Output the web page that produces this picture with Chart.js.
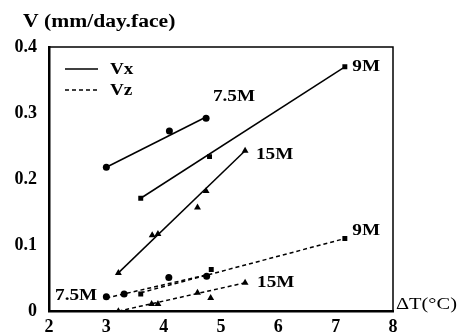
<!DOCTYPE html>
<html>
<head>
<meta charset="utf-8">
<script src="https://cdn.jsdelivr.net/npm/chart.js@4/dist/chart.umd.min.js"></script>
<style>
  html, body { margin: 0; padding: 0; background: #fff; }
  #wrap { width: 459px; height: 334px; position: relative; }
</style>
</head>
<body>
<div id="wrap"><canvas id="chart1"></canvas></div>
<script>
  // Puntos medidos (ΔT, V)
  const vx75X = [3.0, 4.1, 4.74];
  const vx75Y = [0.218, 0.273, 0.292];
  const vx9X = [3.6, 4.8, 7.16];
  const vx9Y = [0.171, 0.234, 0.370];
  const vx15X = [3.21, 3.8, 3.9, 4.59, 4.74, 5.42];
  const vx15Y = [0.058, 0.115, 0.117, 0.157, 0.182, 0.243];
  const vz75X = [3.0, 3.31, 4.09, 4.75];
  const vz75Y = [0.022, 0.026, 0.051, 0.053];
  const vz9X = [3.6, 4.83, 7.16];
  const vz9Y = [0.026, 0.063, 0.110];
  const vz15X = [3.21, 3.79, 3.9, 4.59, 4.82, 5.42];
  const vz15Y = [0.0, 0.011, 0.011, 0.028, 0.020, 0.043];

  // Rectas de ajuste (extremos)
  const fitVx75 = [[3.0, 0.218], [4.74, 0.294]];
  const fitVx9 = [[3.6, 0.171], [7.16, 0.370]];
  const fitVx15 = [[3.21, 0.058], [5.42, 0.243]];
  const fitVz75 = [[3.0, 0.020], [4.75, 0.055]];
  const fitVz9 = [[3.6, 0.028], [7.16, 0.110]];
  const fitVz15 = [[3.21, 0.0], [5.42, 0.043]];

  // Etiquetas de curvas
  const curveLabels = [
    { text: '7.5M', x: 4.86, y: 0.325, align: 'left' },
    { text: '9M', x: 7.29, y: 0.370, align: 'left' },
    { text: '15M', x: 5.61, y: 0.237, align: 'left' },
    { text: '7.5M', x: 2.84, y: 0.023, align: 'right' },
    { text: '9M', x: 7.29, y: 0.121, align: 'left' },
    { text: '15M', x: 5.63, y: 0.043, align: 'left' }
  ];

  const xTicks = [2, 3, 4, 5, 6, 7, 8];
  const yTicks = [0, 0.1, 0.2, 0.3, 0.4];

  const serif = '"Liberation Serif", "Times New Roman", serif';
  const stretch = 1.2;
  const toPts = (xs, ys) => xs.map((x, i) => ({ x: x, y: ys[i] }));
  const toLine = arr => arr.map(p => ({ x: p[0], y: p[1] }));

  const puntos = (xs, ys, style, r) => ({
    data: toPts(xs, ys),
    showLine: false,
    pointStyle: style,
    pointRadius: r,
    pointBackgroundColor: '#000',
    pointBorderColor: '#000',
    pointBorderWidth: 0
  });
  const recta = (arr, dash) => ({
    data: toLine(arr),
    showLine: true,
    borderColor: '#000',
    borderWidth: 1.5,
    borderDash: dash,
    pointRadius: 0
  });

  // texto algo ensanchado, como en la figura escaneada
  function texto(c, str, x, y, align) {
    const w = c.measureText(str).width * stretch;
    const x0 = align === 'right' ? x - w : x;
    c.save();
    c.translate(x0, y);
    c.scale(stretch, 1);
    c.textAlign = 'left';
    c.fillText(str, 0, 0);
    c.restore();
  }

  const extras = {
    id: 'extras',
    afterDraw(chart) {
      const c = chart.ctx, a = chart.chartArea;
      const sx = chart.scales.x, sy = chart.scales.y;
      c.save();
      // marco
      c.strokeStyle = '#000';
      c.lineWidth = 1.5;
      c.beginPath();
      c.moveTo(a.left, a.top); c.lineTo(a.right, a.top); c.lineTo(a.right, a.bottom);
      c.stroke();
      // etiquetas
      c.fillStyle = '#000';
      c.textBaseline = 'middle';
      c.font = 'bold 16px ' + serif;
      curveLabels.forEach(l => {
        texto(c, l.text, sx.getPixelForValue(l.x), sy.getPixelForValue(l.y), l.align);
      });
      texto(c, 'Vx', 110, 70, 'left');
      texto(c, 'Vz', 110, 91, 'left');
      c.font = 'bold 18px ' + serif;
      texto(c, 'V (mm/day.face)', 23, 22, 'left');
      // leyenda
      c.lineWidth = 1.5;
      c.beginPath(); c.moveTo(65, 69); c.lineTo(98, 69); c.stroke();
      c.setLineDash([4, 3]);
      c.beginPath(); c.moveTo(65, 90); c.lineTo(98, 90); c.stroke();
      c.setLineDash([]);
      c.font = '17px ' + serif;
      texto(c, '\u0394T(\u00B0C)', a.right + 3, a.bottom - 7, 'left');
      c.restore();
    }
  };

  const ctx1 = document.getElementById('chart1').getContext('2d');
  new Chart(ctx1, {
    type: 'scatter',
    data: {
      datasets: [
        puntos(vx75X, vx75Y, 'circle', 3.5),
        puntos(vx9X, vx9Y, 'rect', 3.5),
        puntos(vx15X, vx15Y, 'triangle', 4),
        puntos(vz75X, vz75Y, 'circle', 3.5),
        puntos(vz9X, vz9Y, 'rect', 3.5),
        puntos(vz15X, vz15Y, 'triangle', 4),
        recta(fitVx75, []),
        recta(fitVx9, []),
        recta(fitVx15, []),
        recta(fitVz75, [4, 3]),
        recta(fitVz9, [4, 3]),
        recta(fitVz15, [4, 3])
      ]
    },
    options: {
      responsive: true,
      maintainAspectRatio: false,
      animation: false,
      layout: { padding: { left: 0, right: 66, top: 47, bottom: 0 } },
      plugins: { legend: { display: false }, tooltip: { enabled: false } },
      scales: {
        x: {
          type: 'linear', min: 2, max: 8,
          afterFit: s => { s.height = 22; },
          afterBuildTicks: s => { s.ticks = xTicks.map(v => ({ value: v })); },
          grid: { display: false, drawTicks: false },
          border: { display: true, color: '#000', width: 2.5 },
          ticks: { color: '#000', padding: 5, maxRotation: 0, font: { family: serif, size: 18, weight: 'bold' } }
        },
        y: {
          type: 'linear', min: 0, max: 0.4,
          afterFit: s => { s.width = 49; },
          afterBuildTicks: s => { s.ticks = yTicks.map(v => ({ value: v })); },
          grid: { display: false, drawTicks: false },
          border: { display: true, color: '#000', width: 2.5 },
          ticks: { color: '#000', padding: 12, font: { family: serif, size: 18, weight: 'bold' } }
        }
      }
    },
    plugins: [extras]
  });
</script>
</body>
</html>
